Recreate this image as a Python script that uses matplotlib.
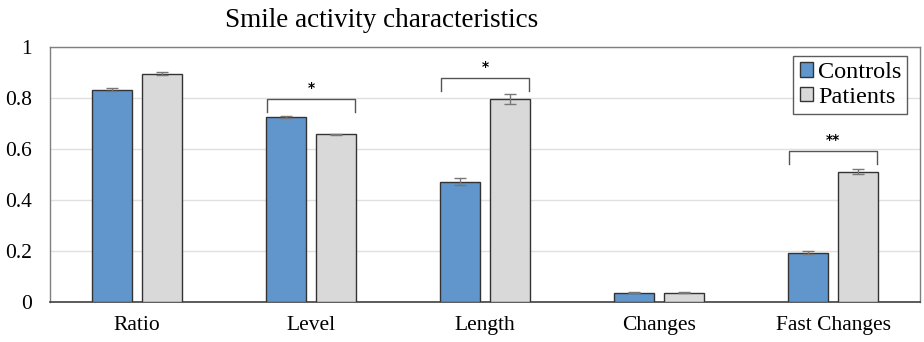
import matplotlib
matplotlib.use("Agg")
import matplotlib.pyplot as plt
import numpy as np
from matplotlib.ticker import FuncFormatter

categories = ["Ratio", "Level", "Length", "Changes", "Fast Changes"]
controls = [0.832, 0.724, 0.472, 0.037, 0.193]
patients = [0.895, 0.657, 0.797, 0.037, 0.511]
controls_err = [0.006, 0.004, 0.013, 0.002, 0.005]
patients_err = [0.006, 0.002, 0.02, 0.002, 0.01]
sig_groups = [1, 2, 4]
sig_labels = ["*", "*", "**"]
sig_heights = [0.795, 0.878, 0.592]
yticks = [0, 0.2, 0.4, 0.6, 0.8, 1.0]

plt.rcParams['font.family'] = ['Liberation Serif', 'DejaVu Serif']

fig = plt.figure(figsize=(9.24, 3.42), dpi=100)
ax = fig.add_axes([0.054, 0.117, 0.942, 0.746])

x = np.arange(len(categories))
w = 0.23
off = 0.143
ax.bar(x - off, controls, w, color="#6096CC", edgecolor="#333333", linewidth=1.0,
       yerr=controls_err, error_kw=dict(ecolor="#777777", elinewidth=1, capsize=4, capthick=1),
       label="Controls", zorder=3)
ax.bar(x + off, patients, w, color="#D9D9D9", edgecolor="#333333", linewidth=1.0,
       yerr=patients_err, error_kw=dict(ecolor="#777777", elinewidth=1, capsize=4, capthick=1),
       label="Patients", zorder=3)

for g, lab, h in zip(sig_groups, sig_labels, sig_heights):
    x0 = g - off - w / 2 + 0.005
    x1 = g + off + w / 2 - 0.005
    ax.plot([x0, x0, x1, x1], [h - 0.05, h, h, h - 0.05], color="#555555", lw=1, zorder=4)
    ax.text(g, h + 0.015, lab, ha="center", va="bottom", fontsize=10, family="DejaVu Sans", fontweight="bold")

ax.set_xlim(-0.5, len(categories) - 0.5)
ax.set_ylim(0, 1)
ax.set_yticks(yticks)
ax.yaxis.set_major_formatter(FuncFormatter(lambda v, p: ("%g" % round(v, 2))))
ax.set_xticks(x)
ax.set_xticklabels(categories, fontsize=15.5)
ax.tick_params(axis="y", labelsize=15.5, length=0, pad=13)
ax.tick_params(axis="x", length=0, pad=10)
ax.grid(axis="y", color="#E0E0E0", linewidth=1, zorder=0)
ax.set_axisbelow(True)
for s in ["left", "top", "right"]:
    ax.spines[s].set_color("#7F7F7F")
    ax.spines[s].set_linewidth(1)
ax.spines["bottom"].set_color("#404040")
ax.spines["bottom"].set_linewidth(1.2)

leg = ax.legend(loc="upper right", prop={"family": "Liberation Serif", "size": 17.5},
                frameon=True, fancybox=False,
                edgecolor="#333333", handlelength=0.55, handleheight=0.55,
                handletextpad=0.2, borderpad=0.25, labelspacing=0.15,
                borderaxespad=0, bbox_to_anchor=(0.985, 0.965))
leg.get_frame().set_linewidth(1)

fig.text(0.413, 0.94, "Smile activity characteristics", ha="center", va="center", fontsize=19.5)

fig.savefig("out.png", dpi=100)
